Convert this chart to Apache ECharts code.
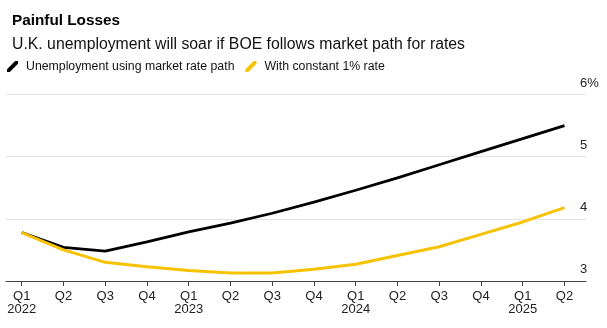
<!DOCTYPE html>
<html>
<head>
<meta charset="utf-8">
<script src="https://cdn.jsdelivr.net/npm/echarts@6/dist/echarts.min.js"></script>
<style>
  html, body { margin: 0; padding: 0; background: #fff; }
  #chart { width: 607px; height: 328px; }
</style>
</head>
<body>
<div id="chart"></div>
<script>
// Quarterly path, Q1 2022 through Q2 2025
const quarters = ['Q1', 'Q2', 'Q3', 'Q4', 'Q1', 'Q2', 'Q3', 'Q4', 'Q1', 'Q2', 'Q3', 'Q4', 'Q1', 'Q2'];
const years = ['2022', '', '', '', '2023', '', '', '', '2024', '', '', '', '2025', ''];

// Unemployment rate, %
const marketPath = [3.78, 3.54, 3.48, 3.63, 3.79, 3.93, 4.09, 4.27, 4.46, 4.66, 4.87, 5.08, 5.29, 5.50];
const constantRate = [3.78, 3.50, 3.30, 3.23, 3.17, 3.13, 3.13, 3.19, 3.27, 3.41, 3.55, 3.75, 3.95, 4.18];

const yTicks = [3, 4, 5, 6];

const FONT = '"Liberation Sans", Arial, sans-serif';
const idx = quarters.map((_, i) => i);
const toPoints = arr => arr.map((v, i) => [i, v]);

const chart = echarts.init(document.getElementById('chart'), null, { renderer: 'canvas' });

chart.setOption({
  animation: false,
  backgroundColor: '#ffffff',
  title: [
    {
      text: 'Painful Losses',
      left: 7, top: 8,
      textStyle: { fontFamily: FONT, fontSize: 15.3, fontWeight: 'bold', color: '#000' }
    },
    {
      text: 'U.K. unemployment will soar if BOE follows market path for rates',
      left: 7, top: 32,
      textStyle: { fontFamily: FONT, fontSize: 15.8, fontWeight: 'normal', color: '#111' }
    }
  ],
  legend: {
    left: 7, top: 60.5,
    padding: 0,
    itemWidth: 11, itemHeight: 11, itemGap: 11,
    // short slanted stroke as the key mark
    icon: 'path://M0,11 L0,8.2 L8.2,0 L11,0 L11,2.8 L2.8,11 Z',
    textStyle: { fontFamily: FONT, fontSize: 12.3, color: '#111', padding: [0, 0, 0, 3] },
    data: ['Unemployment using market rate path', 'With constant 1% rate']
  },
  grid: { left: 6, right: 21, top: 94.5, bottom: 47 },
  xAxis: {
    type: 'value',
    min: -0.376,
    max: 13.515,
    splitLine: { show: false },
    axisLine: { show: true, lineStyle: { color: '#444', width: 1 } },
    axisTick: { show: true, length: 5, customValues: idx, lineStyle: { color: '#444' } },
    axisLabel: {
      customValues: idx,
      margin: 8.5,
      fontFamily: FONT, fontSize: 13, lineHeight: 13.5, color: '#222',
      formatter: v => {
        const i = Math.round(v);
        return years[i] ? quarters[i] + '\n' + years[i] : quarters[i];
      }
    }
  },
  yAxis: {
    type: 'value',
    position: 'right',
    min: 3, max: 6, interval: 1,
    axisLine: { show: false },
    axisTick: { show: false },
    splitLine: { show: true, lineStyle: { color: '#e2e2e2', width: 1 } },
    axisLabel: {
      customValues: yTicks,
      inside: false,
      margin: -6,
      align: 'left',
      verticalAlign: 'bottom',
      padding: [0, 0, 5, 0],
      fontFamily: FONT, fontSize: 13, color: '#222',
      formatter: v => (v === 6 ? v + '%' : String(v))
    }
  },
  series: [
    {
      name: 'Unemployment using market rate path',
      type: 'line',
      data: toPoints(marketPath),
      showSymbol: false,
      color: '#000000',
      lineStyle: { color: '#000000', width: 2.8 },
      z: 2
    },
    {
      name: 'With constant 1% rate',
      type: 'line',
      data: toPoints(constantRate),
      showSymbol: false,
      color: '#F7C300',
      lineStyle: { color: '#F7C300', width: 3 },
      z: 3
    }
  ]
});
</script>
</body>
</html>
